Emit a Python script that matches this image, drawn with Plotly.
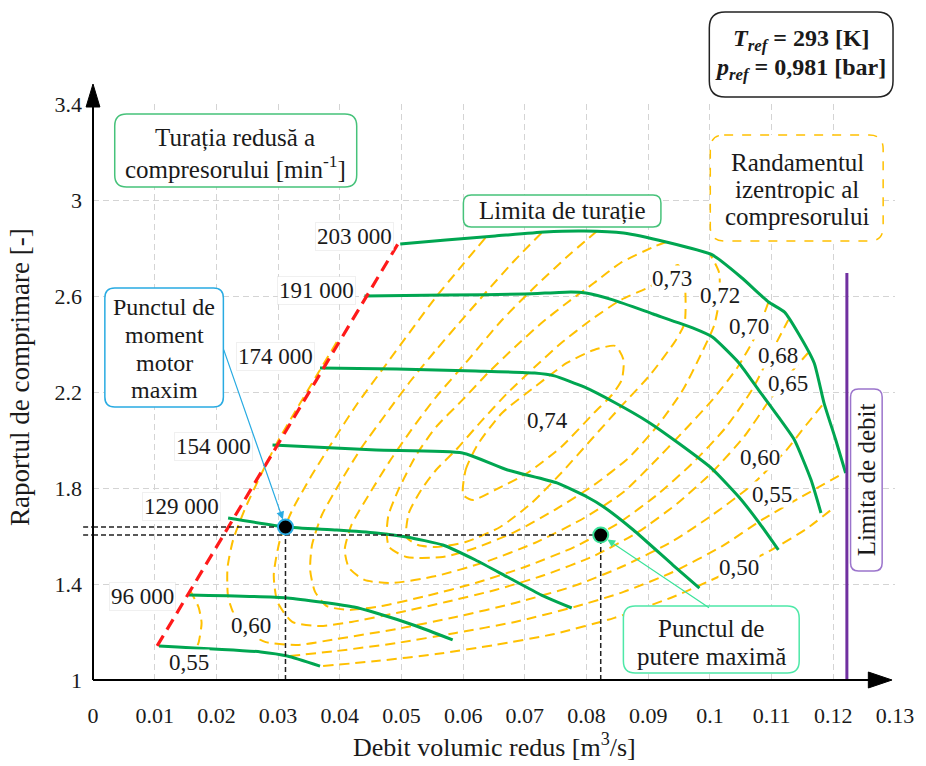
import plotly.graph_objects as go

# ---------------- axis ticks ----------------
x_tick_vals = [0, 0.01, 0.02, 0.03, 0.04, 0.05, 0.06, 0.07, 0.08, 0.09, 0.10, 0.11, 0.12, 0.13]
x_tick_text = ["0", "0.01", "0.02", "0.03", "0.04", "0.05", "0.06", "0.07", "0.08", "0.09",
               "0.1", "0.11", "0.12", "0.13"]
y_tick_vals = [1, 1.4, 1.8, 2.2, 2.6, 3.0, 3.4]
y_tick_text = ["1", "1.4", "1.8", "2.2", "2.6", "3", "3.4"]

# ---------------- speed lines (reduced flow [m3/s], pressure ratio [-]) ----------------
n203_q = [0.0498, 0.0572, 0.0652, 0.0732, 0.0796, 0.0860, 0.0929, 0.1004, 0.1052, 0.1095,
          0.1121, 0.1143, 0.1169, 0.1185, 0.1204, 0.1220]
n203_pr = [2.817, 2.833, 2.850, 2.867, 2.871, 2.8625, 2.825, 2.771, 2.675, 2.575,
           2.533, 2.446, 2.321, 2.154, 2.000, 1.8625]

n191_q = [0.0440, 0.0572, 0.0700, 0.0775, 0.0799, 0.0844, 0.0908, 0.0972, 0.1004, 0.1047,
          0.1079, 0.1111, 0.1137, 0.1164, 0.1180]
n191_pr = [2.600, 2.604, 2.608, 2.617, 2.6125, 2.583, 2.525, 2.467, 2.429, 2.321,
           2.208, 2.096, 2.000, 1.833, 1.696]

n174_q = [0.0368, 0.0492, 0.0620, 0.0716, 0.0748, 0.0796, 0.0847, 0.0900, 0.0951, 0.1004,
          0.1047, 0.1079, 0.1111]
n174_pr = [2.300, 2.296, 2.2875, 2.279, 2.267, 2.221, 2.154, 2.075, 1.983, 1.879,
           1.7625, 1.658, 1.542]

n154_q = [0.0291, 0.0459, 0.0599, 0.0672, 0.0752, 0.0801, 0.0828, 0.0876, 0.0940, 0.0983]
n154_pr = [1.979, 1.958, 1.946, 1.875, 1.821, 1.7625, 1.721, 1.625, 1.479, 1.383]

n129_q = [0.0219, 0.0312, 0.0395, 0.0459, 0.0508, 0.0567, 0.0620, 0.0672, 0.0727, 0.0776]
n129_pr = [1.675, 1.6375, 1.625, 1.6125, 1.596, 1.5625, 1.500, 1.429, 1.354, 1.300]

n96_q = [0.0155, 0.0315, 0.0423, 0.0459, 0.0524, 0.0583]
n96_pr = [1.354, 1.342, 1.304, 1.279, 1.225, 1.167]

nlow_q = [0.0107, 0.0272, 0.0315, 0.0368]
nlow_pr = [1.142, 1.117, 1.100, 1.058]

speed_names = ["203 000", "191 000", "174 000", "154 000", "129 000", "96 000"]

# surge limit and flow limit
surge_q = [0.0104, 0.0498]
surge_pr = [1.142, 2.833]
choke_q = [0.1222, 0.1222]
choke_pr = [1.0, 2.696]

# ---------------- isentropic efficiency contours ----------------
eff074_q = [0.0600, 0.0604, 0.0623, 0.0663, 0.0716, 0.0768, 0.0812, 0.0847, 0.0860, 0.0857,
            0.0841, 0.0812, 0.0759, 0.0704, 0.0652, 0.0616, 0.0600]
eff074_pr = [1.771, 1.875, 1.979, 2.1125, 2.221, 2.321, 2.375, 2.392, 2.333, 2.250,
             2.1875, 2.1125, 1.971, 1.8625, 1.792, 1.750, 1.771]

eff073_q = [0.0508, 0.0512, 0.0532, 0.0556, 0.0588, 0.0631, 0.0672, 0.0716, 0.0759, 0.0807,
            0.0855, 0.0908, 0.0948, 0.0959, 0.0959, 0.0945, 0.0903, 0.0855, 0.0807, 0.0759,
            0.0711, 0.0660, 0.0604, 0.0556, 0.0527, 0.0508]
eff073_pr = [1.596, 1.696, 1.792, 1.875, 1.958, 2.083, 2.196, 2.304, 2.404, 2.500,
             2.583, 2.646, 2.729, 2.654, 2.4875, 2.417, 2.271, 2.1375, 2.000, 1.8625,
             1.7375, 1.6375, 1.575, 1.554, 1.5625, 1.596]

eff072_q = [0.0929, 0.0908, 0.0855, 0.0812, 0.0768, 0.0727, 0.0684, 0.0640, 0.0599, 0.0556,
            0.0524, 0.0495, 0.0479, 0.0476, 0.0480, 0.0508, 0.0567, 0.0620, 0.0684, 0.0748,
            0.0812, 0.0868, 0.0916, 0.0956, 0.0985, 0.1007, 0.1015, 0.1015, 0.1001]
eff072_pr = [2.825, 2.804, 2.7375, 2.654, 2.571, 2.4875, 2.3875, 2.279, 2.167, 2.054,
             1.9375, 1.792, 1.6875, 1.6125, 1.554, 1.5125, 1.5125, 1.550, 1.617, 1.708,
             1.8125, 1.925, 2.0625, 2.208, 2.354, 2.479, 2.583, 2.696, 2.771]

eff070_q = [0.0817, 0.0768, 0.0716, 0.0663, 0.0608, 0.0556, 0.0516, 0.0480, 0.0447, 0.0419,
            0.0408, 0.0415, 0.0440, 0.0484, 0.0556, 0.0636, 0.0716, 0.0796, 0.0860, 0.0908,
            0.0956, 0.1004, 0.1044, 0.1073, 0.1095]
eff070_pr = [2.871, 2.7625, 2.6375, 2.500, 2.333, 2.179, 2.042, 1.908, 1.771, 1.646,
             1.542, 1.467, 1.417, 1.404, 1.433, 1.492, 1.571, 1.675, 1.783, 1.904,
             2.033, 2.167, 2.300, 2.429, 2.575]

eff068_q = [0.0727, 0.0684, 0.0636, 0.0588, 0.0556, 0.0516, 0.0476, 0.0435, 0.0400, 0.0371,
            0.0355, 0.0352, 0.0360, 0.0379, 0.0415, 0.0467, 0.0540, 0.0620, 0.0700, 0.0780,
            0.0852, 0.0916, 0.0972, 0.1025, 0.1068, 0.1100, 0.1127]
eff068_pr = [2.8625, 2.750, 2.6125, 2.471, 2.375, 2.250, 2.1125, 1.967, 1.821, 1.6875,
             1.5625, 1.458, 1.367, 1.308, 1.292, 1.308, 1.350, 1.404, 1.471, 1.554,
             1.654, 1.775, 1.904, 2.050, 2.208, 2.367, 2.500]

eff065_q = [0.0636, 0.0592, 0.0556, 0.0516, 0.0472, 0.0427, 0.0387, 0.0352, 0.0323, 0.0303,
            0.0293, 0.0299, 0.0323, 0.0368, 0.0419, 0.0492, 0.0572, 0.0652, 0.0732, 0.0812,
            0.0884, 0.0948, 0.1004, 0.1055, 0.1097, 0.1132, 0.1159]
eff065_pr = [2.842, 2.708, 2.596, 2.458, 2.304, 2.146, 1.9875, 1.842, 1.708, 1.583,
             1.4375, 1.325, 1.242, 1.225, 1.242, 1.279, 1.325, 1.375, 1.4375, 1.517,
             1.617, 1.7375, 1.867, 2.0125, 2.167, 2.283, 2.3625]

eff060_q = [0.0395, 0.0363, 0.0331, 0.0299, 0.0272, 0.0247, 0.0227, 0.0218, 0.0219, 0.0229,
            0.0251, 0.0280, 0.0331, 0.0395, 0.0492, 0.0588, 0.0684, 0.0780, 0.0860, 0.0940,
            0.1004, 0.1068, 0.1124, 0.1156, 0.1185]
eff060_pr = [2.408, 2.271, 2.133, 1.992, 1.854, 1.717, 1.583, 1.467, 1.346, 1.271,
             1.200, 1.158, 1.146, 1.171, 1.2125, 1.2625, 1.321, 1.392, 1.475, 1.579,
             1.6875, 1.8125, 1.958, 2.0625, 2.154]

# 0.55 is interrupted by the lowest speed line
eff055_q = [0.0157, 0.0171, 0.0176, 0.0171, 0.0167, None,
            0.0319, 0.0395, 0.0492, 0.0588, 0.0684, 0.0780, 0.0860, 0.0940, 0.1020, 0.1084,
            0.1148, 0.1217]
eff055_pr = [1.375, 1.304, 1.2375, 1.154, 1.133, None,
             1.100, 1.121, 1.154, 1.196, 1.242, 1.304, 1.367, 1.450, 1.558, 1.667,
             1.7625, 1.8625]

eff050_q = [0.0373, 0.0459, 0.0556, 0.0652, 0.0748, 0.0844, 0.0940, 0.1020, 0.1100, 0.1156, 0.1196]
eff050_pr = [1.058, 1.079, 1.108, 1.146, 1.192, 1.258, 1.346, 1.4375, 1.542, 1.629, 1.708]

eff_labels = ["0,74", "0,73", "0,72", "0,70", "0,68", "0,65", "0,60", "0,55", "0,50", "0,60", "0,55"]

# operating points
torque_q, torque_pr = 0.0312, 1.6375
power_q, power_pr = 0.0823, 1.604

# ---------------- styling ----------------
FONT = "'Liberation Serif', 'Times New Roman', serif"
INK = "#1a1a1a"
GREEN = "#00a651"
ORANGE = "#ffc000"
W, H = 926, 766
ML, MR, MT, MB = 93, 21, 104, 86
PW, PH = W - ML - MR, H - MT - MB


def px(x):
    """pixel column -> paper x"""
    return (x - ML) / PW


def py(y):
    """pixel row -> paper y"""
    return (H - MB - y) / PH


def rbox(x0, y0, x1, y1, r):
    X0, X1 = px(x0), px(x1)
    Y0, Y1 = py(y0), py(y1)
    rx, ry = r / PW, r / PH
    return (f"M {X0+rx},{Y0} L {X1-rx},{Y0} Q {X1},{Y0} {X1},{Y0-ry} "
            f"L {X1},{Y1+ry} Q {X1},{Y1} {X1-rx},{Y1} "
            f"L {X0+rx},{Y1} Q {X0},{Y1} {X0},{Y1+ry} "
            f"L {X0},{Y0-ry} Q {X0},{Y0} {X0+rx},{Y0} Z")


fig = go.Figure()

# efficiency contours
for q, pr in [(eff074_q, eff074_pr), (eff073_q, eff073_pr), (eff072_q, eff072_pr),
              (eff070_q, eff070_pr), (eff068_q, eff068_pr), (eff065_q, eff065_pr),
              (eff060_q, eff060_pr), (eff055_q, eff055_pr), (eff050_q, eff050_pr)]:
    fig.add_trace(go.Scatter(x=q, y=pr, mode="lines", connectgaps=False,
                             line=dict(color=ORANGE, width=2, dash="10px,6px", shape="spline",
                                       smoothing=0.6),
                             hoverinfo="skip"))

# speed lines
speed_lines = [(n203_q, n203_pr), (n191_q, n191_pr), (n174_q, n174_pr), (n154_q, n154_pr),
               (n129_q, n129_pr), (n96_q, n96_pr), (nlow_q, nlow_pr)]
for q, pr in speed_lines:
    fig.add_trace(go.Scatter(x=q, y=pr, mode="lines",
                             line=dict(color=GREEN, width=3, shape="spline", smoothing=0.5),
                             hoverinfo="skip"))

# surge line
fig.add_trace(go.Scatter(x=surge_q, y=surge_pr, mode="lines",
                         line=dict(color="#ff1a1a", width=3.2, dash="12px,7px"), hoverinfo="skip"))
# flow limit
fig.add_trace(go.Scatter(x=choke_q, y=choke_pr, mode="lines",
                         line=dict(color="#7030a0", width=3), hoverinfo="skip"))

# guide lines to the operating points
guide = dict(color="#222222", width=1.5, dash="5px,3px")
for q, pr in [(torque_q, torque_pr), (power_q, power_pr)]:
    fig.add_trace(go.Scatter(x=[0, q], y=[pr, pr], mode="lines", line=guide, hoverinfo="skip"))
    fig.add_trace(go.Scatter(x=[q, q], y=[1, pr], mode="lines", line=guide, hoverinfo="skip"))
    fig.add_shape(type="line", xref="paper", yref="y", x0=px(83), x1=0, y0=pr, y1=pr,
                  line=guide)

fig.add_trace(go.Scatter(x=[torque_q], y=[torque_pr], mode="markers",
                         marker=dict(color="black", size=15, line=dict(color="#29abe2", width=2)),
                         hoverinfo="skip"))
fig.add_trace(go.Scatter(x=[power_q], y=[power_pr], mode="markers",
                         marker=dict(color="black", size=15, line=dict(color="#3be39a", width=2)),
                         hoverinfo="skip"))

# ---------------- axes drawn with arrows ----------------
fig.add_shape(type="line", xref="paper", yref="paper", x0=0, y0=0, x1=0, y1=py(100),
              line=dict(color="black", width=2))
fig.add_shape(type="path", xref="paper", yref="paper",
              path=f"M {px(86)},{py(107)} L {px(93)},{py(84)} L {px(100)},{py(107)} Z",
              fillcolor="black", line=dict(color="black", width=1))
fig.add_shape(type="line", xref="paper", yref="paper", x0=0, y0=0, x1=px(885), y1=0,
              line=dict(color="black", width=2))
fig.add_shape(type="path", xref="paper", yref="paper",
              path=f"M {px(878)},{py(672)} L {px(902)},{py(680)} L {px(878)},{py(688)} Z",
              fillcolor="black", line=dict(color="black", width=1))

# ---------------- boxes ----------------
boxes = [
    ((115, 114, 360, 187, 12), "#46c27a", "solid"),
    ((468, 195, 668, 227, 8), "#46c27a", "solid"),
    ((718, 135, 893, 241, 14), ORANGE, "dash"),
    ((717, 12, 903, 97, 16), "#222222", "solid"),
    ((105, 288, 225, 407, 10), "#29abe2", "solid"),
    ((630, 606, 808, 673, 12), "#4ee8a8", "solid"),
    ((860, 389, 892, 571, 8), "#9b74cc", "solid"),
]
for (x0, y0, x1, y1, r), col, dash in boxes:
    fig.add_shape(type="path", xref="paper", yref="paper", path=rbox(x0, y0, x1, y1, r),
                  fillcolor="white", line=dict(color=col, width=1.5, dash=dash), layer="above")

# box captions, one annotation per line: (centre x, centre y, text, angle, size)
box_lines = [
    (237, 138, "Turația redusă a", 0, 25),
    (237, 167, "compresorului [min<sup>-1</sup>]", 0, 25),
    (568, 211, "Limita de turație", 0, 25),
    (806, 162, "Randamentul", 0, 25),
    (806, 189, "izentropic al", 0, 25),
    (806, 216, "compresorului", 0, 25),
    (810, 40, "<b><i>T</i><sub><i>ref</i></sub> = 293 [K]</b>", 0, 24),
    (809, 69, "<b><i>p</i><sub><i>ref</i></sub> = 0,981 [bar]</b>", 0, 24),
    (165, 307, "Punctul de", 0, 24),
    (165, 335, "moment", 0, 24),
    (165, 363, "motor", 0, 24),
    (165, 390, "maxim", 0, 24),
    (719, 628, "Punctul de", 0, 25),
    (719, 656, "putere maximă", 0, 25),
    (876, 480, "Limita de debit", -90, 25),
]
for cx, cy, t, ang, fs in box_lines:
    fig.add_annotation(xref="paper", yref="paper", x=px(cx), y=py(cy), text=t, showarrow=False,
                       font=dict(family=FONT, size=fs, color=INK), textangle=ang,
                       xanchor="center", yanchor="middle")

# speed labels, right-aligned next to the start of each line
lab = dict(family=FONT, size=23, color=INK)
speed_label_pos = [(0.0480, 2.846), (0.0419, 2.625), (0.0351, 2.346), (0.0251, 1.975),
                   (0.0199, 1.721), (0.0126, 1.346)]
for (x, y), t in zip(speed_label_pos, speed_names):
    fig.add_annotation(x=x, y=y, text=t, showarrow=False, font=lab, bgcolor="white",
                       bordercolor="rgba(0,0,0,0.06)", borderpad=1, xshift=5,
                       xanchor="right", yanchor="middle")

# efficiency labels
eff_label_pos = [(0.0736, 2.083), (0.0938, 2.675), (0.1017, 2.604), (0.1063, 2.471),
                 (0.1110, 2.354), (0.1127, 2.2375), (0.1081, 1.929), (0.1101, 1.771),
                 (0.1047, 1.467), (0.0256, 1.229), (0.0155, 1.075)]
for (x, y), t in zip(eff_label_pos, eff_labels):
    fig.add_annotation(x=x, y=y, text=t, showarrow=False, font=lab, bgcolor="white",
                       borderpad=0, xanchor="center", yanchor="middle")

# callout arrows
fig.add_annotation(x=torque_q, y=torque_pr, ax=0.0211, ay=2.383, axref="x", ayref="y",
                   text="", showarrow=True, arrowhead=2, arrowsize=1.3, arrowwidth=1.2,
                   arrowcolor="#29abe2", standoff=8)
fig.add_annotation(x=power_q, y=power_pr, ax=0.1001, ay=1.297, axref="x", ayref="y",
                   text="", showarrow=True, arrowhead=2, arrowsize=1.3, arrowwidth=1.2,
                   arrowcolor="#3be39a", standoff=8)

# axis titles
fig.add_annotation(xref="paper", yref="paper", x=px(500), y=py(745),
                   text="Debit volumic redus [m<sup>3</sup>/s]", showarrow=False,
                   font=dict(family=FONT, size=26, color=INK),
                   xanchor="center", yanchor="middle")
fig.add_annotation(xref="paper", yref="paper", x=px(19), y=py(377),
                   text="Raportul de comprimare [-]", showarrow=False,
                   font=dict(family=FONT, size=27, color=INK), textangle=-90,
                   xanchor="center", yanchor="middle")

axis_common = dict(showgrid=True, gridcolor="#d4d4d4", gridwidth=1, griddash="6px,4px",
                   zeroline=False, showline=False, ticks="",
                   tickfont=dict(family=FONT, size=22, color=INK))
fig.update_xaxes(range=[0, 0.13], tickvals=x_tick_vals, ticktext=x_tick_text,
                 ticklabelstandoff=20, **axis_common)
fig.update_yaxes(range=[1, 3.4], tickvals=y_tick_vals, ticktext=y_tick_text,
                 ticklabelstandoff=10, **axis_common)

fig.update_layout(width=W, height=H, margin=dict(l=ML, r=MR, t=MT, b=MB),
                  paper_bgcolor="white", plot_bgcolor="white", showlegend=False,
                  font=dict(family=FONT))

fig.write_html("out.html")
